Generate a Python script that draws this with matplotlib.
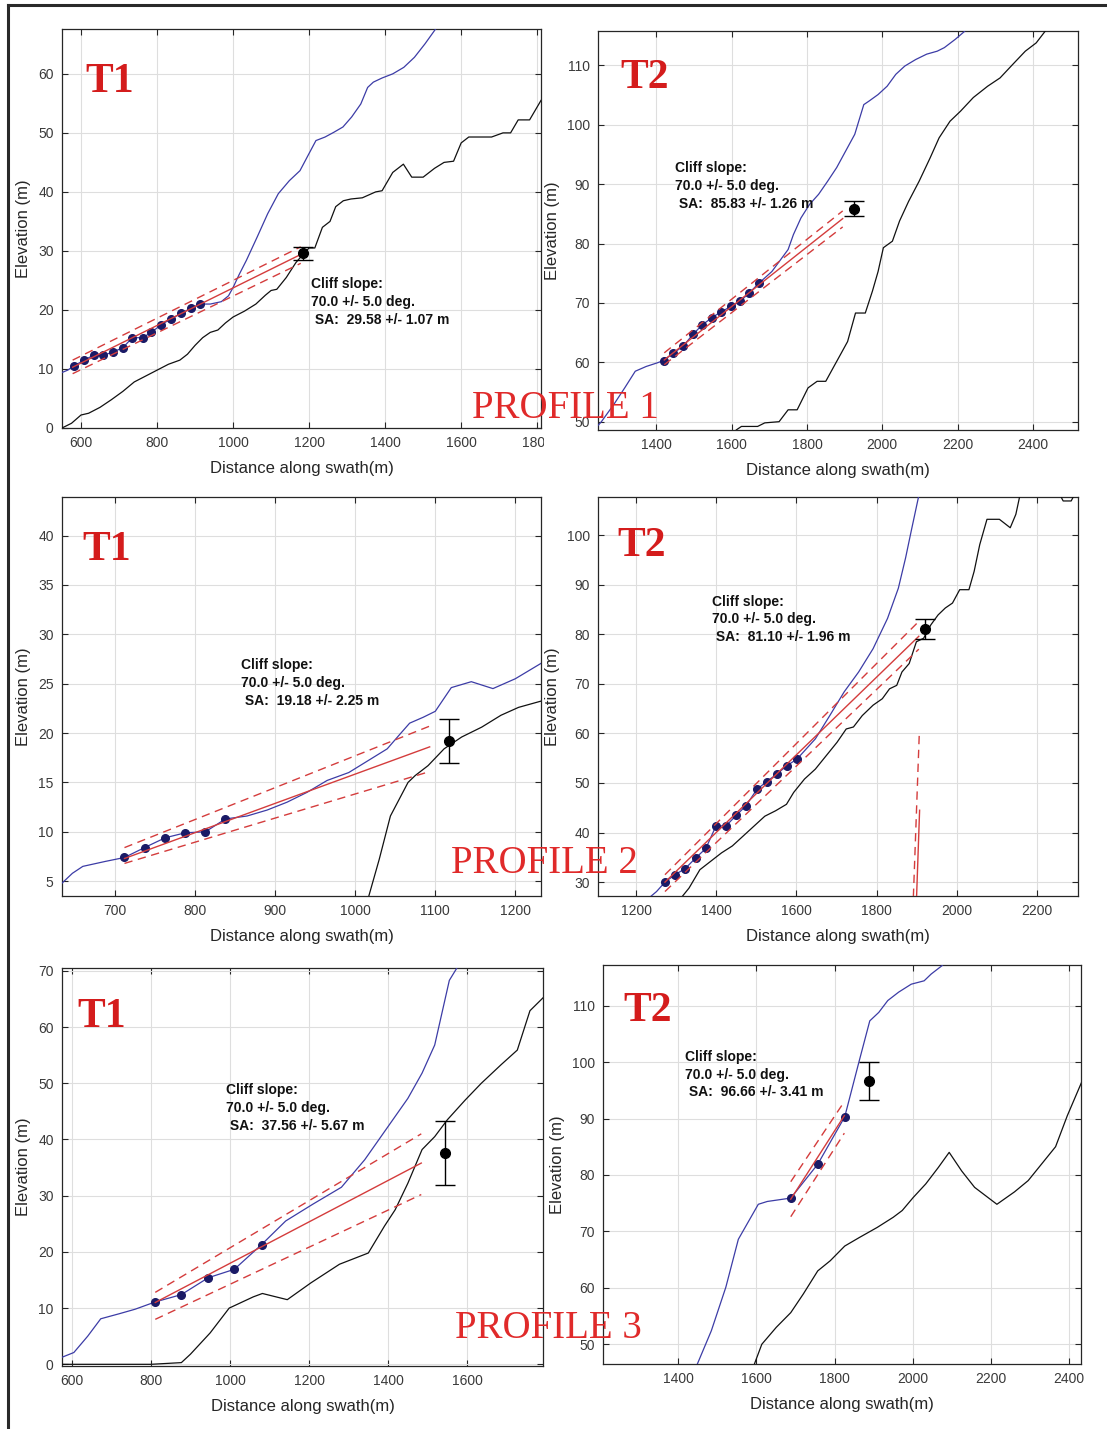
import numpy as np
import matplotlib
matplotlib.use('Agg')
import matplotlib.pyplot as plt
from matplotlib.lines import Line2D
from matplotlib.transforms import Bbox, TransformedBbox

plt.rcParams['font.family'] = ['Liberation Sans', 'DejaVu Sans']

W, H = 1107, 1429

# ---- profile 1 / T1 ----
p1_blue_x = [550, 565, 581, 608, 635, 658, 685, 710, 735, 762,
             785, 811, 837, 863, 889, 913, 940, 969, 988, 1000,
             1016, 1035, 1063, 1091, 1119, 1148, 1176, 1199, 1218, 1242,
             1265, 1289, 1312, 1336, 1354, 1369, 1392, 1420, 1449, 1477,
             1505, 1535]
p1_blue_y = [9.4, 9.8, 10.5, 11.5, 12.4, 12.3, 12.9, 13.6, 15.3, 15.3,
             16.2, 17.5, 18.5, 19.4, 20.3, 21.0, 21.0, 21.4, 22.4, 23.8,
             26.0, 28.4, 32.3, 36.3, 39.7, 41.9, 43.6, 46.4, 48.7, 49.3,
             50.1, 51.0, 52.7, 54.9, 57.7, 58.6, 59.3, 60.0, 61.1, 62.8,
             65.1, 67.8]
p1_black_x = [550, 575, 600, 620, 650, 680, 710, 740, 770, 800,
              830, 860, 880, 900, 920, 940, 960, 980, 1000, 1030,
              1060, 1085, 1100, 1115, 1140, 1165, 1185, 1200, 1215, 1235,
              1255, 1270, 1290, 1310, 1340, 1375, 1392, 1420, 1448, 1470,
              1500, 1530, 1555, 1580, 1600, 1620, 1680, 1710, 1730, 1750,
              1780, 1810]
p1_black_y = [0.0, 0.8, 2.2, 2.5, 3.5, 4.8, 6.2, 7.8, 8.8, 9.8,
              10.8, 11.5, 12.5, 14.0, 15.3, 16.2, 16.6, 17.8, 18.8, 19.8,
              21.0, 22.5, 23.3, 23.5, 25.5, 28.0, 29.5, 30.5, 30.5, 34.0,
              35.0, 37.5, 38.5, 38.8, 39.0, 40.0, 40.2, 43.3, 44.7, 42.5,
              42.5, 44.0, 45.0, 45.2, 48.3, 49.3, 49.3, 50.0, 50.0, 52.2,
              52.2, 55.5]
p1_dot_x = [581, 608, 635, 658, 685, 710, 735, 762, 785, 811, 837, 863, 889, 913]
p1_dot_y = [10.5, 11.5, 12.4, 12.3, 12.9, 13.6, 15.3, 15.3, 16.2, 17.5, 18.5, 19.4, 20.3, 21.0]
p1_fit_x = [578, 1178]
p1_fit_y = [10.3, 29.4]
p1_fit_hi = [11.5, 30.7]
p1_fit_lo = [9.2, 27.9]
p1_sa = (1183, 29.58, 1.07)

# ---- profile 1 / T2 ----
p2_blue_x = [1240, 1254, 1287, 1316, 1344, 1373, 1402, 1419, 1444, 1471,
             1497, 1522, 1547, 1572, 1598, 1623, 1647, 1672, 1707, 1750,
             1764, 1784, 1807, 1831, 1855, 1879, 1903, 1927, 1951, 1965,
             1989, 2013, 2036, 2060, 2089, 2118, 2146, 2165, 2194, 2218,
             2235]
p2_blue_y = [49.0, 50.0, 52.9, 55.7, 58.5, 59.3, 59.9, 60.3, 61.5, 62.7,
             64.7, 66.3, 67.5, 68.5, 69.4, 70.3, 71.7, 73.3, 75.3, 79.0,
             81.5, 84.3, 86.6, 88.3, 90.5, 92.8, 95.6, 98.4, 103.4, 104.0,
             105.1, 106.5, 108.5, 109.9, 111.0, 111.9, 112.4, 113.0, 114.4, 115.7,
             117.0]
p2_black_x = [1605, 1612, 1626, 1669, 1688, 1726, 1750, 1774, 1803, 1827,
              1850, 1869, 1889, 1908, 1929, 1955, 1974, 1989, 2003, 2027,
              2046, 2070, 2098, 2127, 2151, 2180, 2208, 2242, 2280, 2313,
              2347, 2380, 2409, 2432, 2440]
p2_black_y = [47.5, 48.6, 49.2, 49.2, 49.8, 50.0, 52.0, 52.0, 55.7, 56.8,
              56.8, 59.0, 61.3, 63.5, 68.3, 68.3, 72.0, 75.3, 79.3, 80.4,
              83.8, 87.1, 90.5, 94.4, 97.8, 100.6, 102.3, 104.6, 106.5, 107.9,
              110.2, 112.4, 113.8, 115.7, 116.5]
p2_dot_x = [1419, 1444, 1471, 1497, 1522, 1547, 1572, 1598, 1623, 1647, 1672]
p2_dot_y = [60.3, 61.5, 62.7, 64.7, 66.3, 67.5, 68.5, 69.4, 70.3, 71.7, 73.3]
p2_fit_x = [1421, 1895]
p2_fit_y = [60.4, 84.2]
p2_fit_hi = [61.6, 85.5]
p2_fit_lo = [59.6, 82.8]
p2_sa = (1925, 85.83, 1.26)

# ---- profile 2 / T1 ----
p3_blue_x = [634, 647, 660, 688, 712, 737, 763, 788, 813, 838,
             865, 890, 915, 940, 965, 992, 1018, 1040, 1055, 1068,
             1085, 1100, 1120, 1145, 1172, 1200, 1235]
p3_blue_y = [4.8, 5.8, 6.5, 7.0, 7.4, 8.4, 9.4, 9.9, 10.0, 11.3,
             11.6, 12.2, 13.0, 14.0, 15.2, 16.0, 17.3, 18.4, 19.8, 21.0,
             21.6, 22.2, 24.6, 25.2, 24.5, 25.5, 27.2]
p3_black_x = [1012, 1016, 1030, 1044, 1066, 1075, 1091, 1111, 1133, 1158, 1182, 1204, 1235]
p3_black_y = [2.0, 3.2, 7.2, 11.6, 15.0, 15.7, 16.7, 18.4, 19.6, 20.6, 21.8, 22.6, 23.3]
p3_dot_x = [712, 737, 763, 788, 813, 838]
p3_dot_y = [7.4, 8.4, 9.4, 9.9, 10.0, 11.3]
p3_fit_x = [712, 1093]
p3_fit_y = [7.3, 18.6]
p3_fit_hi = [8.4, 20.7]
p3_fit_lo = [6.8, 16.1]
p3_sa = (1117, 19.18, 2.25)

# ---- profile 2 / T2 ----
p4_blue_x = [1215, 1229, 1251, 1272, 1297, 1322, 1349, 1374, 1399, 1425,
             1450, 1474, 1501, 1526, 1551, 1576, 1601, 1647, 1683, 1719,
             1755, 1791, 1827, 1854, 1872, 1886, 1904, 1912]
p4_blue_y = [25.5, 26.6, 28.1, 30.0, 31.5, 32.7, 34.9, 36.8, 41.3, 41.4,
             43.5, 45.4, 48.7, 50.3, 51.8, 53.5, 54.8, 58.9, 63.6, 68.4,
             72.4, 77.1, 83.2, 89.3, 95.4, 100.8, 107.6, 112.0]
p4_black_x = [1300, 1310, 1332, 1359, 1386, 1413, 1440, 1467, 1494, 1521,
              1548, 1575, 1593, 1620, 1647, 1674, 1701, 1724, 1742, 1764,
              1791, 1814, 1832, 1850, 1863, 1881, 1899, 1917, 1935, 1953,
              1971, 1989, 2007, 2030, 2043, 2057, 2075, 2106, 2133, 2147,
              2156, 2175, 2240, 2258, 2265, 2285, 2292, 2310]
p4_black_y = [25.5, 26.6, 28.8, 32.5, 34.2, 35.9, 37.3, 39.3, 41.3, 43.3,
              44.4, 45.7, 48.1, 50.8, 52.8, 55.5, 58.2, 60.9, 61.3, 63.6,
              65.7, 67.0, 69.0, 69.7, 72.4, 74.1, 78.5, 79.2, 81.9, 83.9,
              85.3, 86.3, 89.0, 89.0, 92.7, 98.1, 103.2, 103.2, 101.5, 104.2,
              107.6, 112.0, 112.0, 108.0, 106.9, 106.9, 108.0, 112.0]
p4_dot_x = [1272, 1297, 1322, 1349, 1374, 1399, 1425, 1450, 1474, 1501, 1526, 1551, 1576, 1601]
p4_dot_y = [30.0, 31.5, 32.7, 34.9, 36.8, 41.3, 41.4, 43.5, 45.4, 48.7, 50.3, 51.8, 53.5, 54.8]
p4_fit_x = [1272, 1905]
p4_fit_y = [30.0, 79.6]
p4_fit_hi = [31.5, 82.6]
p4_fit_lo = [28.1, 77.0]
p4_sa = (1920, 81.10, 1.96)
# steep line pair near the toe
p4_toe_dash_x = [1906, 1891]
p4_toe_dash_y = [59.5, 26.0]
p4_toe_x = [1907, 1899]
p4_toe_y = [44.5, 26.0]

# ---- profile 3 / T1 ----
p5_blue_x = [573, 605, 640, 673, 720, 760, 811, 877, 945, 1011,
             1080, 1141, 1210, 1282, 1341, 1391, 1418, 1450, 1486, 1518,
             1555, 1575]
p5_blue_y = [1.2, 2.1, 5.0, 8.1, 9.0, 9.8, 11.1, 12.4, 15.4, 16.9,
             21.3, 25.5, 28.5, 31.5, 36.4, 41.4, 44.1, 47.3, 51.8, 56.8,
             68.3, 70.6]
p5_black_x = [573, 800, 877, 900, 950, 998, 1059, 1082, 1145, 1205,
              1277, 1350, 1391, 1418, 1450, 1486, 1518, 1550, 1595, 1636,
              1686, 1727, 1759, 1795]
p5_black_y = [0.0, 0.0, 0.3, 1.8, 5.6, 10.0, 12.0, 12.6, 11.5, 14.5,
              17.8, 19.8, 24.6, 27.5, 32.2, 38.2, 40.5, 43.5, 47.0, 50.0,
              53.3, 55.9, 62.9, 65.4]
p5_dot_x = [811, 877, 945, 1011, 1080]
p5_dot_y = [11.1, 12.4, 15.4, 16.9, 21.3]
p5_fit_x = [811, 1484]
p5_fit_y = [11.0, 35.8]
p5_fit_hi = [12.8, 41.0]
p5_fit_lo = [8.0, 30.2]
p5_sa = (1543, 37.56, 5.67)

# ---- profile 3 / T2 ----
p6_blue_x = [1440, 1448, 1485, 1522, 1554, 1605, 1628, 1688, 1757, 1826,
             1863, 1890, 1913, 1936, 1964, 1996, 2029, 2047, 2075, 2090]
p6_blue_y = [45.0, 46.3, 52.4, 60.1, 68.6, 74.8, 75.3, 75.9, 81.9, 90.3,
             100.2, 107.3, 108.8, 110.9, 112.4, 113.8, 114.4, 115.6, 117.1, 118.5]
p6_black_x = [1588, 1594, 1614, 1651, 1688, 1720, 1757, 1789, 1826, 1863,
              1909, 1950, 1973, 2001, 2033, 2065, 2093, 2125, 2158, 2215,
              2260, 2295, 2330, 2365, 2395, 2432]
p6_black_y = [45.0, 46.3, 50.0, 53.0, 55.6, 58.9, 63.0, 64.8, 67.4, 68.9,
              70.7, 72.5, 73.7, 76.0, 78.4, 81.3, 84.0, 80.7, 77.8, 74.8,
              77.0, 79.0, 82.0, 85.0, 90.5, 96.5]
p6_dot_x = [1688, 1757, 1826]
p6_dot_y = [75.9, 81.9, 90.3]
p6_fit_x = [1688, 1825]
p6_fit_y = [75.7, 90.5]
p6_fit_hi = [78.8, 93.0]
p6_fit_lo = [72.6, 87.4]
p6_sa = (1888, 96.66, 3.41)

cliff_slope = (70.0, 5.0)
panel_names = ['T1', 'T2', 'T1', 'T2', 'T1', 'T2']
profile_names = ['PROFILE 1', 'PROFILE 2', 'PROFILE 3']

panels = [
    dict(blue=(p1_blue_x, p1_blue_y), black=(p1_black_x, p1_black_y), dots=(p1_dot_x, p1_dot_y),
         fit=(p1_fit_x, p1_fit_y, p1_fit_hi, p1_fit_lo), sa=p1_sa),
    dict(blue=(p2_blue_x, p2_blue_y), black=(p2_black_x, p2_black_y), dots=(p2_dot_x, p2_dot_y),
         fit=(p2_fit_x, p2_fit_y, p2_fit_hi, p2_fit_lo), sa=p2_sa),
    dict(blue=(p3_blue_x, p3_blue_y), black=(p3_black_x, p3_black_y), dots=(p3_dot_x, p3_dot_y),
         fit=(p3_fit_x, p3_fit_y, p3_fit_hi, p3_fit_lo), sa=p3_sa),
    dict(blue=(p4_blue_x, p4_blue_y), black=(p4_black_x, p4_black_y), dots=(p4_dot_x, p4_dot_y),
         fit=(p4_fit_x, p4_fit_y, p4_fit_hi, p4_fit_lo), sa=p4_sa),
    dict(blue=(p5_blue_x, p5_blue_y), black=(p5_black_x, p5_black_y), dots=(p5_dot_x, p5_dot_y),
         fit=(p5_fit_x, p5_fit_y, p5_fit_hi, p5_fit_lo), sa=p5_sa),
    dict(blue=(p6_blue_x, p6_blue_y), black=(p6_black_x, p6_black_y), dots=(p6_dot_x, p6_dot_y),
         fit=(p6_fit_x, p6_fit_y, p6_fit_hi, p6_fit_lo), sa=p6_sa),
]

# layout: (left, right, top, bottom) in pixels, axis limits, ticks
boxes = [(62, 541, 29, 428), (598, 1078, 31, 430),
         (62, 541, 497, 896), (598, 1078, 497, 896),
         (62, 543, 968, 1366), (603, 1081, 965, 1364)]
xlims = [(550, 1810), (1245, 2520), (634, 1232), (1105, 2302), (575, 1792), (1208, 2430)]
ylims = [(0, 67.6), (48.6, 115.8), (3.5, 43.9), (27.2, 107.7), (-0.3, 70.5), (46.5, 117.2)]
xticks = [np.arange(600, 1801, 200), np.arange(1400, 2401, 200), np.arange(700, 1201, 100),
          np.arange(1200, 2201, 200), np.arange(600, 1601, 200), np.arange(1400, 2401, 200)]
yticks = [np.arange(0, 61, 10), np.arange(50, 111, 10), np.arange(5, 41, 5),
          np.arange(30, 101, 10), np.arange(0, 71, 10), np.arange(50, 111, 10)]
text_pos = [(1205, 25.5), (1450, 93.9), (857, 27.6), (1390, 88.0), (990, 50.0), (1418, 102.2)]
tag_pos = [(0.048, 0.842), (0.046, 0.857), (0.042, 0.842), (0.040, 0.852), (0.033, 0.852), (0.042, 0.86)]
profile_pos = [(472, 418), (451, 873), (455, 1338)]

BLUE = '#3c3ca6'
NAVY = '#1a1a66'
RED = '#d43c3c'

fig = plt.figure(figsize=(W / 100, H / 100), dpi=100)
axes = []
for i, p in enumerate(panels):
    l, r, t, b = boxes[i]
    ax = fig.add_axes([l / W, 1 - b / H, (r - l) / W, (b - t) / H])
    axes.append(ax)

    ax.plot(*p['black'], color='#111111', lw=0.9, zorder=3)
    ax.plot(*p['blue'], color=BLUE, lw=0.9, zorder=3)
    ax.plot(*p['dots'], 'o', color=NAVY, ms=5.5, zorder=4)

    fx, fy, fhi, flo = p['fit']
    ax.plot(fx, fy, color=RED, lw=1.0, zorder=5)
    ax.plot(fx, fhi, color=RED, lw=1.0, ls=(0, (6, 4)), zorder=5)
    ax.plot(fx, flo, color=RED, lw=1.0, ls=(0, (6, 4)), zorder=5)

    sx, sy, se = p['sa']
    ax.errorbar([sx], [sy], yerr=[se], fmt='o', color='k', ms=7,
                capsize=7, elinewidth=1, capthick=1, zorder=6)

    tx, ty = text_pos[i]
    ax.text(tx, ty, 'Cliff slope:\n%.1f +/- %.1f deg.\n SA:  %.2f +/- %.2f m'
            % (cliff_slope[0], cliff_slope[1], sy, se),
            fontsize=10, fontweight='bold', va='top', ha='left',
            linespacing=1.35, color='#111111', zorder=7)

    gx, gy = tag_pos[i]
    ax.text(gx, gy, panel_names[i], transform=ax.transAxes, fontsize=30,
            fontweight='bold', family='Liberation Serif', color='#d41c1c',
            va='baseline', ha='left', zorder=7)

    ax.set_xlim(*xlims[i])
    ax.set_ylim(*ylims[i])
    ax.set_xticks(xticks[i])
    ax.set_yticks(yticks[i])
    ax.grid(True, color='#dedede', lw=0.8)
    ax.set_axisbelow(True)
    ax.tick_params(direction='in', length=4, width=0.8, top=True, right=True,
                   labelsize=10, labelcolor='#3a3a3a', color='#262626', pad=6)
    for s in ax.spines.values():
        s.set_color('#262626')
        s.set_linewidth(0.9)
    ax.set_xlabel('Distance along swath(m)', fontsize=12, color='#262626', labelpad=8)
    ax.set_ylabel('Elevation (m)', fontsize=12, color='#262626', labelpad=5)

# the steep pair of lines at the toe of T2 in profile 2
axes[3].plot(p4_toe_dash_x, p4_toe_dash_y, color=RED, lw=1.0, ls=(0, (6, 4)), zorder=5)
axes[3].plot(p4_toe_x, p4_toe_y, color=RED, lw=1.0, zorder=5)

for k, name in enumerate(profile_names):
    px, py = profile_pos[k]
    fig.text(px / W, 1 - py / H, name, fontsize=28, family='Liberation Serif',
             color='#e02a2a', va='baseline', ha='left', zorder=10)

# outer frame (left and top edges)
fig.add_artist(Line2D([8 / W, 8 / W], [0, 1 - 5 / H], transform=fig.transFigure,
                      color='#2a2a2a', lw=2.2))
fig.add_artist(Line2D([8 / W, 1], [1 - 5 / H, 1 - 5 / H], transform=fig.transFigure,
                      color='#2a2a2a', lw=2.2))

# last x tick label of the first panel is cut by the neighbouring panel
fig.canvas.draw()
clip = TransformedBbox(Bbox([[0, 0], [544 / W, 1]]), fig.transFigure)
for tick in axes[0].xaxis.get_major_ticks():
    if tick.get_loc() == 1800:
        tick.label1.set_clip_box(clip)
        tick.label1.set_clip_on(True)

fig.savefig('out.png', dpi=100)
